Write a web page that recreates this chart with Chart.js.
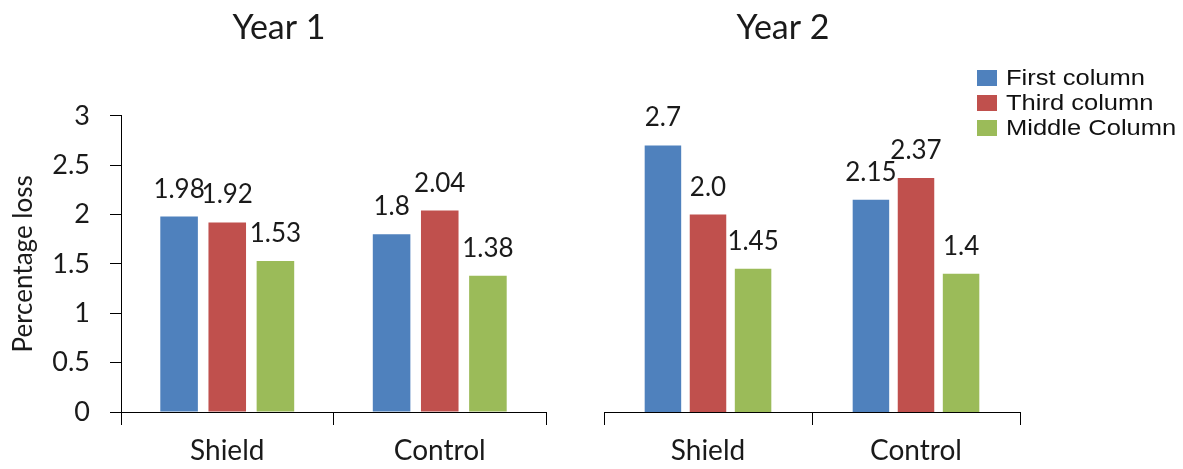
<!DOCTYPE html>
<html>
<head>
<meta charset="utf-8">
<script src="https://cdn.jsdelivr.net/npm/chart.js@4.4.1/dist/chart.umd.min.js"></script>
<style>
  html, body { margin: 0; padding: 0; background: #fff; width: 1183px; height: 469px; overflow: hidden; }
  #wrap { position: relative; width: 1183px; height: 469px; }
  #year1 { position: absolute; left: 0; top: 0; }
  #year2 { position: absolute; left: 546px; top: 0; }
  #legend { position: absolute; left: 977px; top: 65px; font-family: 'Liberation Sans', Arial, sans-serif; font-size: 22px; color: #111; }
  #legend .row { display: flex; align-items: center; height: 25px; white-space: nowrap; }
  #legend .sw { width: 20px; height: 16px; margin-right: 9px; flex: none; }
  #legend .tx { display: inline-block; transform: scaleX(1.16); transform-origin: left center; }
</style>
</head>
<body>
<div id="wrap">
  <canvas id="year1" width="560" height="469"></canvas>
  <canvas id="year2" width="476" height="469"></canvas>
  <div id="legend"></div>
</div>
<script>
// Categories and series
const categories = ['Shield', 'Control'];
const seriesNames = ['First column', 'Third column', 'Middle Column'];
const seriesColors = ['#4F81BD', '#C0504D', '#9BBB59'];

// Percentage loss per series, as printed above each bar (Shield, Control)
const year1First  = ['1.98', '1.8'];
const year1Third  = ['1.92', '2.04'];
const year1Middle = ['1.53', '1.38'];
const year2First  = ['2.7', '2.15'];
const year2Third  = ['2.0', '2.37'];
const year2Middle = ['1.45', '1.4'];

// Y axis ticks
const yTicks = [0, 0.5, 1, 1.5, 2, 2.5, 3];

const TEXT = '#1a1a1a';
const AXIS = '#000000';
const FONT = 'Lato, "Open Sans", sans-serif';

// Draws each bar's printed value above it
const valueLabels = {
  id: 'valueLabels',
  afterDatasetsDraw(chart) {
    const ctx = chart.ctx;
    ctx.save();
    ctx.font = '26px ' + FONT;
    ctx.fillStyle = TEXT;
    ctx.textAlign = 'center';
    ctx.textBaseline = 'alphabetic';
    chart.data.datasets.forEach((ds, i) => {
      chart.getDatasetMeta(i).data.forEach((bar, j) => {
        ctx.fillText(ds.valueText[j], bar.x, bar.y - 19);
      });
    });
    ctx.restore();
  }
};

function makeDatasets(lists, pct) {
  return lists.map((vals, i) => ({
    label: seriesNames[i],
    data: vals.map(Number),
    valueText: vals,
    backgroundColor: seriesColors[i],
    borderWidth: 0,
    categoryPercentage: pct[0],
    barPercentage: pct[1]
  }));
}

function makeOptions(title, withAxis, axisWidth, padLeft, padRight) {
  return {
    responsive: false,
    animation: false,
    layout: { padding: { left: padLeft, right: padRight, top: 0, bottom: 0 } },
    plugins: {
      legend: { display: false },
      tooltip: { enabled: false },
      title: {
        display: true,
        text: title,
        color: TEXT,
        font: { family: FONT, size: 34, weight: 'normal' },
        padding: { top: 8, bottom: 67 }
      }
    },
    scales: {
      x: {
        offset: true,
        grid: { offset: true, drawOnChartArea: false, drawTicks: true, tickLength: 13, color: AXIS, lineWidth: 1 },
        border: { display: true, color: AXIS, width: 1 },
        ticks: { color: TEXT, font: { family: FONT, size: 28 }, padding: 9 },
        afterFit(s) { s.height = 57; }
      },
      y: {
        min: 0,
        max: 3,
        afterBuildTicks(s) { s.ticks = yTicks.map(v => ({ value: v })); },
        grid: { display: withAxis, drawOnChartArea: false, drawTicks: true, tickLength: 11, color: AXIS, lineWidth: 1 },
        border: { display: withAxis, color: AXIS, width: 1 },
        ticks: { display: withAxis, color: TEXT, font: { family: FONT, size: 27 }, padding: 20, callback: v => String(v) },
        title: {
          display: withAxis,
          text: 'Percentage loss',
          color: TEXT,
          font: { family: FONT, size: 26 },
          padding: { top: -4, bottom: 0 }
        },
        afterFit(s) { s.width = axisWidth; }
      }
    }
  };
}

new Chart(document.getElementById('year1'), {
  type: 'bar',
  data: { labels: categories, datasets: makeDatasets([year1First, year1Third, year1Middle], [0.68, 0.78]) },
  options: makeOptions('Year 1', true, 109, 12, 14),
  plugins: [valueLabels]
});

new Chart(document.getElementById('year2'), {
  type: 'bar',
  data: { labels: categories, datasets: makeDatasets([year2First, year2Third, year2Middle], [0.65, 0.81]) },
  options: makeOptions('Year 2', false, 58, 0, 2),
  plugins: [valueLabels]
});

// Legend built from the series names and colours
const legend = document.getElementById('legend');
seriesNames.forEach((name, i) => {
  const row = document.createElement('div');
  row.className = 'row';
  const sw = document.createElement('span');
  sw.className = 'sw';
  sw.style.background = seriesColors[i];
  const tx = document.createElement('span');
  tx.className = 'tx';
  tx.textContent = name;
  row.appendChild(sw);
  row.appendChild(tx);
  legend.appendChild(row);
});
</script>
</body>
</html>
